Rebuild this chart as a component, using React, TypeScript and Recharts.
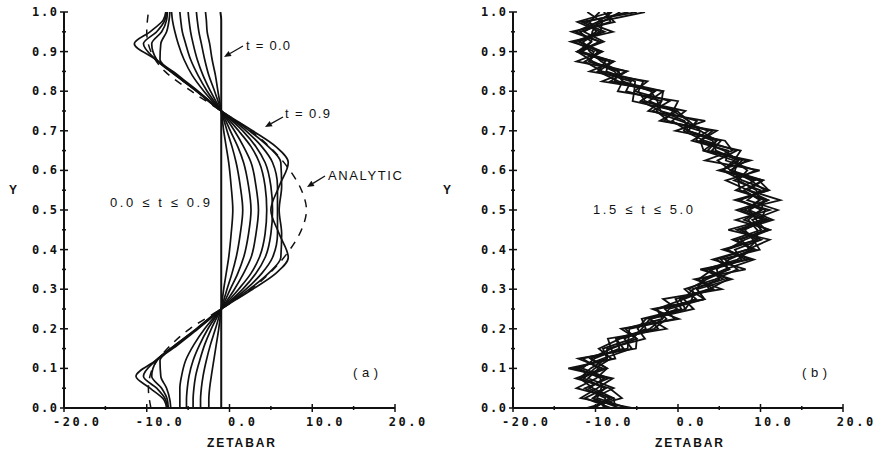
import React from "react";
import { ScatterChart, Scatter, XAxis, YAxis } from "recharts";

// axis ticks (minor every 5 / 0.05, labelled every 10 / 0.1)
const xTicks = [-20, -15, -10, -5, 0, 5, 10, 15, 20];
const yTicks = [0, 0.05, 0.1, 0.15, 0.2, 0.25, 0.3, 0.35, 0.4, 0.45, 0.5, 0.55, 0.6, 0.65, 0.7, 0.75, 0.8, 0.85, 0.9, 0.95, 1.0];

// panel (a): profiles for t = 0.0 ... 0.9
const profileY = [0, 0.02, 0.05, 0.08, 0.12, 0.16, 0.2, 0.25, 0.3, 0.34, 0.38, 0.44, 0.5, 0.56, 0.62, 0.66, 0.7, 0.75, 0.8, 0.84, 0.88, 0.92, 0.95, 0.98, 1.0];
const zetaT00 = [-1.0, -1.0, -1.0, -1.0, -1.0, -1.0, -1.0, -1.0, -1.0, -1.0, -1.0, -1.0, -1.0, -1.0, -1.0, -1.0, -1.0, -1.0, -1.0, -1.0, -1.0, -1.0, -1.0, -1.0, -1.1];
const zetaT01 = [-2.5, -2.5, -2.4, -2.2, -1.9, -1.6, -1.3, -1.0, -0.7, -0.4, -0.1, 0.2, 0.4, 0.2, -0.1, -0.4, -0.7, -1.0, -1.4, -1.7, -2.1, -2.4, -2.7, -2.8, -2.9];
const zetaT02 = [-3.5, -3.5, -3.4, -3.2, -2.8, -2.3, -1.7, -1.0, -0.3, 0.3, 0.8, 1.3, 1.6, 1.3, 0.8, 0.3, -0.3, -1.0, -1.8, -2.5, -3.0, -3.4, -3.7, -3.9, -4.0];
const zetaT03 = [-4.4, -4.4, -4.3, -4.1, -3.6, -3.0, -2.2, -1.0, 0.1, 1.0, 1.7, 2.3, 2.6, 2.3, 1.7, 1.0, 0.1, -1.0, -2.3, -3.2, -3.9, -4.4, -4.7, -4.9, -5.0];
const zetaT04 = [-5.2, -5.2, -5.1, -4.9, -4.4, -3.6, -2.6, -1.0, 0.6, 1.7, 2.6, 3.2, 3.5, 3.2, 2.6, 1.7, 0.6, -1.0, -2.7, -3.8, -4.7, -5.3, -5.7, -5.9, -6.0];
const zetaT05 = [-6.0, -6.0, -6.0, -5.8, -5.3, -4.3, -3.0, -1.0, 1.1, 2.6, 3.6, 4.3, 4.5, 4.3, 3.6, 2.6, 1.1, -1.0, -3.1, -4.5, -5.5, -6.2, -6.6, -6.9, -7.0];
const zetaT06 = [-7.1, -7.2, -7.6, -8.3, -8.4, -6.2, -3.8, -1.0, 1.6, 3.2, 4.3, 5.0, 5.2, 5.0, 4.3, 3.2, 1.6, -1.0, -3.8, -6.2, -8.4, -8.3, -7.6, -7.3, -7.2];
const zetaT07 = [-7.4, -7.5, -8.2, -9.4, -8.8, -6.4, -3.9, -1.0, 2.0, 3.9, 5.2, 5.8, 5.8, 5.8, 5.2, 3.9, 2.0, -1.0, -3.9, -6.4, -8.8, -9.4, -8.2, -7.6, -7.5];
const zetaT08 = [-7.5, -7.7, -8.8, -10.4, -8.9, -6.5, -4.0, -1.0, 2.4, 4.7, 6.2, 6.3, 6.0, 6.3, 6.2, 4.7, 2.4, -1.0, -4.0, -6.5, -8.9, -10.4, -8.8, -7.8, -7.6];
const zetaT09 = [-7.6, -7.9, -9.6, -11.3, -8.9, -6.5, -4.0, -1.0, 2.8, 5.6, 7.1, 6.0, 5.0, 6.0, 7.1, 5.6, 2.8, -1.0, -4.0, -6.5, -8.9, -11.5, -9.6, -8.0, -7.7];
const profilesA = [zetaT00, zetaT01, zetaT02, zetaT03, zetaT04, zetaT05, zetaT06, zetaT07, zetaT08, zetaT09];

const analyticY = [0, 0.05, 0.1, 0.15, 0.2, 0.25, 0.3, 0.35, 0.4, 0.45, 0.5, 0.55, 0.6, 0.65, 0.7, 0.75, 0.8, 0.85, 0.9, 0.95, 1.0];
const analyticZeta = [-9.5, -9.8, -9.3, -7.5, -4.8, -1.0, 2.6, 5.3, 7.3, 8.7, 9.3, 8.7, 7.3, 5.3, 2.6, -1.0, -4.6, -7.8, -9.5, -10.0, -9.8];

// panel (b): noisy profiles for 1.5 <= t <= 5.0
const noisyY = [0, 0.025, 0.05, 0.075, 0.1, 0.125, 0.15, 0.175, 0.2, 0.225, 0.25, 0.275, 0.3, 0.325, 0.35, 0.375, 0.4, 0.425, 0.45, 0.475, 0.5, 0.525, 0.55, 0.575, 0.6, 0.625, 0.65, 0.675, 0.7, 0.725, 0.75, 0.775, 0.8, 0.825, 0.85, 0.875, 0.9, 0.925, 0.95, 0.975, 1.0];
const noisyB1 = [-7.1, -10.3, -7.8, -10.9, -9.6, -11.6, -6.1, -6.0, -5.9, -0.4, -1.6, 2.2, 0.8, 4.5, 7.2, 5.7, 9.4, 6.6, 10.1, 9.0, 12.1, 8.4, 10.0, 6.8, 9.4, 5.8, 6.1, 1.7, 3.7, 0.3, -3.1, -1.0, -5.3, -5.2, -8.7, -8.3, -12.2, -9.0, -11.4, -9.2, -7.0];
const noisyB2 = [-10.1, -8.3, -10.8, -8.9, -12.6, -8.6, -8.6, -4.0, -4.9, -3.9, 0.9, 0.2, 4.3, 2.5, 4.2, 8.2, 5.9, 9.6, 7.6, 11.5, 8.6, 10.9, 7.0, 9.3, 6.4, 7.8, 3.6, 4.7, 1.2, 2.3, -2.1, -4.5, -2.8, -7.7, -7.2, -10.8, -9.7, -12.0, -8.9, -11.7, -5.0];
const noisyB3 = [-8.1, -11.3, -8.8, -11.4, -10.1, -8.1, -9.6, -7.0, -2.4, -3.4, 1.9, 0.7, 1.8, 5.5, 3.2, 7.2, 8.9, 7.1, 11.1, 8.0, 10.1, 7.4, 11.0, 7.8, 5.4, 7.3, 5.6, 2.7, 4.2, -1.7, -0.6, -3.5, -1.8, -7.2, -9.7, -8.8, -11.7, -10.5, -11.9, -8.2, -8.5];
const noisyB4 = [-9.1, -8.8, -11.3, -8.4, -11.6, -10.1, -7.1, -7.5, -3.4, -1.9, -2.6, 3.2, 2.3, 3.0, 6.2, 5.2, 9.9, 9.1, 8.1, 10.5, 7.1, 10.9, 8.5, 10.3, 6.4, 4.8, 7.1, 3.2, 0.7, 1.3, -0.1, -4.0, -4.8, -4.2, -9.2, -11.3, -9.2, -12.0, -9.9, -10.7, -9.5];
const noisyB5 = [-6.1, -9.8, -9.3, -9.4, -12.1, -9.1, -5.6, -6.5, -3.9, -4.4, 0.4, -0.3, 3.8, 6.0, 3.7, 7.7, 6.9, 10.1, 7.6, 10.0, 10.6, 7.4, 10.5, 8.8, 6.4, 8.3, 4.1, 5.2, 1.2, -0.7, 0.9, -4.5, -2.8, -8.2, -6.2, -10.8, -10.2, -12.5, -9.4, -9.2, -11.0];
const noisyB6 = [-10.6, -7.8, -10.3, -11.9, -8.6, -10.6, -8.1, -5.0, -6.4, -1.9, -1.1, 3.2, 1.3, 3.5, 6.2, 4.7, 8.4, 9.6, 7.1, 11.0, 8.1, 9.9, 8.0, 10.3, 5.4, 6.8, 3.1, 4.7, 2.7, -1.2, -2.6, -2.0, -6.3, -5.7, -9.7, -7.8, -11.7, -9.5, -12.4, -9.7, -8.0];
const noisyB7 = [-5.6, -11.8, -9.8, -7.9, -13.3, -7.6, -8.1, -8.5, -1.4, -3.4, -0.1, -1.8, 5.3, 2.0, 8.2, 4.2, 8.4, 11.1, 6.1, 10.5, 7.6, 12.4, 8.5, 5.8, 9.9, 3.3, 6.6, 5.7, -0.3, 3.3, -3.6, -2.0, -1.8, -9.2, -6.2, -12.3, -9.2, -13.0, -7.9, -11.2, -6.0];
const noisyB8 = [-11.1, -6.8, -8.3, -12.4, -9.1, -12.1, -5.1, -5.0, -6.9, 0.1, -3.1, 3.2, 2.3, 6.5, 2.7, 8.7, 5.9, 8.1, 11.1, 7.0, 11.1, 6.9, 11.0, 9.8, 4.9, 8.8, 3.1, 2.7, 4.7, -2.2, -0.1, -5.5, -5.3, -3.7, -10.7, -7.8, -12.2, -9.5, -12.9, -7.7, -9.0];
const noisyB9 = [-7.6, -7.8, -12.3, -9.9, -8.6, -10.6, -6.6, -7.5, -2.9, -1.4, -2.6, 0.7, 3.8, 3.0, 5.7, 9.2, 5.4, 9.6, 9.6, 8.5, 10.1, 10.4, 7.5, 7.3, 8.4, 6.8, 7.6, 2.2, 2.7, 1.3, -0.6, 0.0, -7.3, -6.7, -7.2, -9.3, -10.7, -11.5, -9.4, -12.2, -8.0];
const noisyB10 = [-8.6, -10.3, -8.8, -11.9, -10.6, -8.6, -9.1, -5.5, -4.4, -3.4, 0.9, 1.7, 1.8, 5.0, 4.7, 6.2, 8.9, 7.6, 10.6, 9.5, 8.6, 9.9, 9.5, 7.3, 6.9, 7.3, 4.6, 4.2, 1.2, 0.8, -2.1, -2.5, -3.3, -6.7, -7.7, -10.3, -12.2, -10.5, -10.4, -9.7, -4.0];
const profilesB = [noisyB1, noisyB2, noisyB3, noisyB4, noisyB5, noisyB6, noisyB7, noisyB8, noisyB9, noisyB10];

const INK = "#111";
const MONO = "'DejaVu Sans Mono', monospace";
const SANS = "'Liberation Sans', Arial, sans-serif";

const toPoints = (ys: number[], xs: number[]) => ys.map((y, i) => ({ x: xs[i], y }));

const isMajor = (v: number, step: number) => Math.abs(v / step - Math.round(v / step)) < 1e-6;

const YTick = (props: any) => {
  const { x, y, payload } = props;
  const v = payload.value as number;
  const major = isMajor(v, 0.1);
  const label = v.toFixed(1);
  return (
    <g>
      <line x1={x - (major ? 4 : 2)} x2={x + (major ? 4 : 2)} y1={y} y2={y} stroke={INK} strokeWidth={1.5} />
      {major && (
        <text x={x - 7} y={y + 4} textAnchor="end" fontFamily={MONO} fontWeight="bold" fontSize={12} fill={INK}
          textLength={label.length * 9 - 2} lengthAdjust="spacing">
          {label}
        </text>
      )}
    </g>
  );
};

const XTick = (props: any) => {
  const { x, y, payload } = props;
  const v = payload.value as number;
  const major = isMajor(v, 10);
  const label = v.toFixed(1);
  return (
    <g>
      <line x1={x} x2={x} y1={y - (major ? 4 : 2)} y2={y + (major ? 4 : 2)} stroke={INK} strokeWidth={1.5} />
      {major && (
        <text x={x + 12} y={y + 18} textAnchor="middle" fontFamily={MONO} fontWeight="bold" fontSize={12} fill={INK}
          textLength={label.length * 9.6 - 2} lengthAdjust="spacing">
          {label}
        </text>
      )}
    </g>
  );
};

const hidden = () => <g />;

function Panel({ width, yAxisWidth, rightMargin, children }: any) {
  return (
    <ScatterChart width={width} height={451} margin={{ top: 12, right: rightMargin, bottom: 0, left: 0 }}>
      <XAxis type="number" dataKey="x" domain={[-20, 20]} ticks={xTicks} interval={0} height={43}
        tickSize={0} tickMargin={0} tick={<XTick />} axisLine={{ stroke: INK, strokeWidth: 2 }} allowDataOverflow />
      <YAxis type="number" dataKey="y" domain={[0, 1]} ticks={yTicks} interval={0} width={yAxisWidth}
        tickSize={0} tickMargin={0} tick={<YTick />} axisLine={{ stroke: INK, strokeWidth: 2 }} allowDataOverflow />
      {children}
    </ScatterChart>
  );
}

const Arrow = ({ x1, y1, x2, y2 }: { x1: number; y1: number; x2: number; y2: number }) => {
  const a = Math.atan2(y2 - y1, x2 - x1);
  const l = 7;
  const w = 3;
  const bx = x2 - l * Math.cos(a);
  const by = y2 - l * Math.sin(a);
  const px = -Math.sin(a) * w;
  const py = Math.cos(a) * w;
  return (
    <g>
      <line x1={x1} y1={y1} x2={bx} y2={by} stroke={INK} strokeWidth={1.3} />
      <polygon points={`${x2},${y2} ${bx + px},${by + py} ${bx - px},${by - py}`} fill={INK} />
    </g>
  );
};

export default function App() {
  return (
    <div style={{ position: "absolute", left: 0, top: 0, width: 877, height: 451, background: "#fff" }}>
      <div style={{ position: "absolute", left: 0, top: 0 }}>
        <Panel width={440} yAxisWidth={64} rightMargin={45}>
          <Scatter data={toPoints(analyticY, analyticZeta)} fill={INK} shape={hidden} isAnimationActive={false}
            line={{ stroke: INK, strokeWidth: 1.5, strokeDasharray: "8 7" }} lineJointType="monotoneY" />
          {profilesA.map((xs, i) => (
            <Scatter key={i} data={toPoints(profileY, xs)} fill={INK} shape={hidden} isAnimationActive={false}
              line={{ stroke: INK, strokeWidth: i === 0 ? 2 : 1.7 }} lineJointType="monotoneY" />
          ))}
        </Panel>
      </div>
      <div style={{ position: "absolute", left: 440, top: 0 }}>
        <Panel width={437} yAxisWidth={73} rightMargin={34}>
          {profilesB.map((xs, i) => (
            <Scatter key={i} data={toPoints(noisyY, xs)} fill={INK} shape={hidden} isAnimationActive={false}
              line={{ stroke: INK, strokeWidth: 1.8 }} lineJointType="linear" />
          ))}
        </Panel>
      </div>
      <svg width={877} height={451} style={{ position: "absolute", left: 0, top: 0, pointerEvents: "none" }}>
        <g fontFamily={SANS} fontSize={13} fill={INK}>
          <text x={246} y={50} textLength={44} lengthAdjust="spacing">t = 0.0</text>
          <text x={285} y={118} textLength={45} lengthAdjust="spacing">t = 0.9</text>
          <text x={328} y={180} textLength={74} lengthAdjust="spacing">ANALYTIC</text>
          <text x={110} y={207} textLength={100} lengthAdjust="spacing">0.0 ≤ t ≤ 0.9</text>
          <text x={353} y={377} textLength={25} lengthAdjust="spacing">(a)</text>
          <text x={593} y={214} textLength={100} lengthAdjust="spacing">1.5 ≤ t ≤ 5.0</text>
          <text x={802} y={377} textLength={25} lengthAdjust="spacing">(b)</text>
        </g>
        <g fontFamily={SANS} fontSize={12} fontWeight="bold" fill={INK}>
          <text x={13} y={194} textAnchor="middle">Y</text>
          <text x={447} y={194} textAnchor="middle">Y</text>
          <text x={207} y={447} textLength={68} lengthAdjust="spacing">ZETABAR</text>
          <text x={655} y={447} textLength={68} lengthAdjust="spacing">ZETABAR</text>
        </g>
        <Arrow x1={243} y1={46} x2={224} y2={57} />
        <Arrow x1={283} y1={117} x2={265} y2={127} />
        <Arrow x1={325} y1={176} x2={307} y2={187} />
      </svg>
    </div>
  );
}
